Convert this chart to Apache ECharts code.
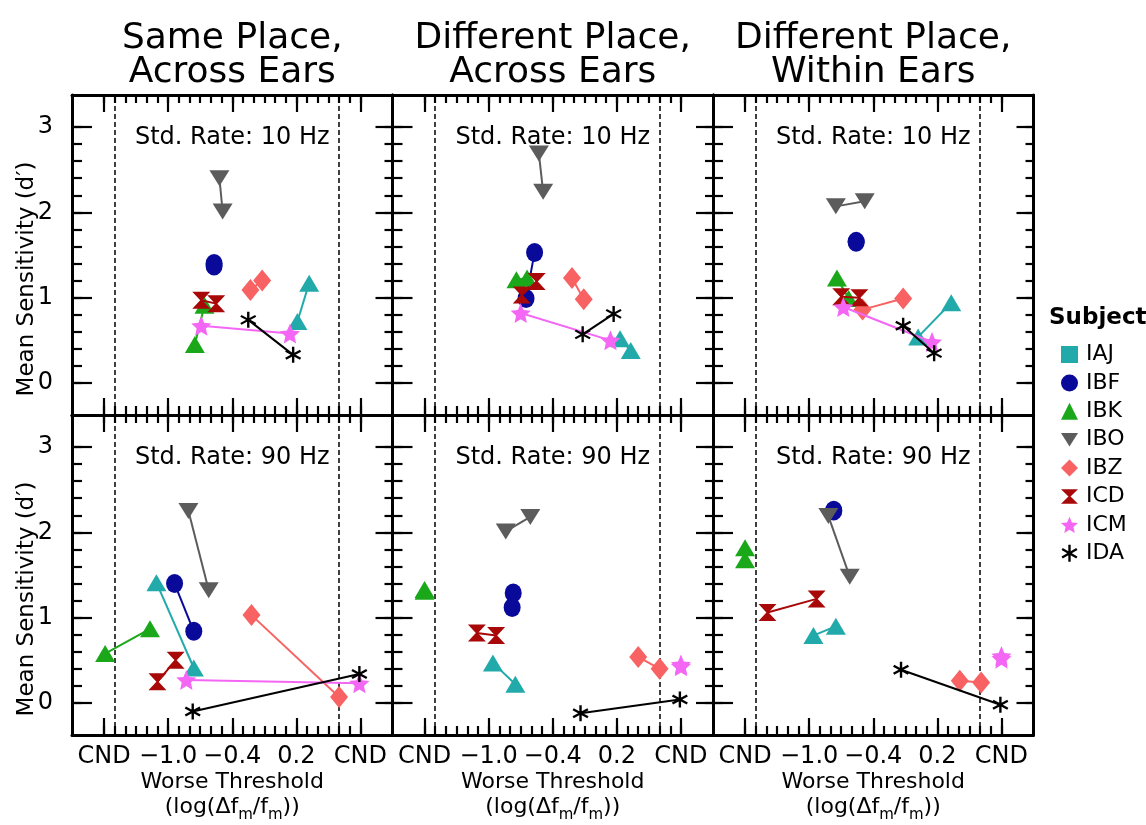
<!DOCTYPE html>
<html><head><meta charset="utf-8">
<script src="https://cdn.jsdelivr.net/npm/echarts@6/dist/echarts.min.js"></script>
<style>html,body{margin:0;padding:0;background:#fff}#c{width:1146px;height:825px}</style>
</head><body><div id="c"></div>
<script>
// ---------- data ----------
const subjects = ['IAJ','IBF','IBK','IBO','IBZ','ICD','ICM','IDA'];
const colTitles = ['Same Place,\nAcross Ears','Different Place,\nAcross Ears','Different Place,\nWithin Ears'];
const rowLabels = ['Std. Rate: 10 Hz','Std. Rate: 90 Hz'];
const xTickValues = [-1.6,-1.0,-0.4,0.2,0.8];
const xTickLabels = ['CND','\u22121.0','\u22120.4','0.2','CND'];
const yTickValues = [0,1,2,3];
const yTickLabels = ['0','1','2','3'];
const refLines = [-1.5, 0.6];

// panel order: top-left, top-mid, top-right, bottom-left, bottom-mid, bottom-right
// each entry: [[x1,y1],[x2,y2]]  (x = log threshold, y = d')
const IAJ = [[[0.21,0.72],[0.32,1.17]],[[0.23,0.52],[0.33,0.38]],[[0.02,0.54],[0.33,0.94]],
             [[-1.11,1.41],[-0.76,0.41]],[[-0.96,0.47],[-0.75,0.22]],[[-0.96,0.79],[-0.75,0.90]]];
const IBF = [[[-0.57,1.40],[-0.57,1.37]],[[-0.57,1.53],[-0.65,0.99]],[[-0.56,1.66],[-0.56,1.65]],
             [[-0.94,1.40],[-0.76,0.84]],[[-0.77,1.29],[-0.78,1.12]],[[-0.77,2.26],[-0.77,2.25]]];
const IBK = [[[-0.75,0.45],[-0.66,0.91]],[[-0.74,1.21],[-0.64,1.23]],[[-0.74,1.23],[-0.63,0.99]],
             [[-1.59,0.58],[-1.17,0.87]],[[-1.6,1.33],[-1.6,1.31]],[[-1.6,1.82],[-1.6,1.68]]];
const IBO = [[[-0.52,2.40],[-0.49,2.01]],[[-0.53,2.69],[-0.49,2.24]],[[-0.75,2.07],[-0.48,2.13]],
             [[-0.81,2.25],[-0.62,1.32]],[[-0.84,2.01],[-0.61,2.18]],[[-0.82,2.19],[-0.62,1.48]]];
const IBZ = [[[-0.23,1.09],[-0.12,1.20]],[[-0.22,1.23],[-0.11,0.98]],[[-0.50,0.86],[-0.12,0.99]],
             [[-0.22,1.03],[0.60,0.07]],[[0.40,0.54],[0.60,0.40]],[[0.41,0.26],[0.61,0.24]]];
const ICD = [[[-0.69,0.97],[-0.55,0.93]],[[-0.55,1.19],[-0.69,1.03]],[[-0.70,1.01],[-0.53,1.00]],
             [[-1.10,0.25],[-0.93,0.50]],[[-1.11,0.82],[-0.93,0.79]],[[-1.39,1.06],[-0.93,1.22]]];
const ICM = [[[-0.69,0.67],[0.14,0.58]],[[-0.70,0.82],[0.14,0.50]],[[-0.68,0.89],[0.15,0.48]],
             [[-0.83,0.27],[0.79,0.23]],[[0.80,0.45],[0.80,0.43]],[[0.80,0.55],[0.80,0.52]]];
const IDA = [[[-0.25,0.74],[0.17,0.33]],[[-0.12,0.57],[0.17,0.81]],[[-0.12,0.67],[0.17,0.35]],
             [[-0.77,-0.10],[0.79,0.34]],[[-0.14,-0.12],[0.79,0.04]],[[-0.14,0.39],[0.79,-0.02]]];
const subjectData = [IAJ, IBF, IBK, IBO, IBZ, ICD, ICM, IDA];

// ---------- styles ----------
const FONT = 'DejaVu Sans';
const colors = ['#22aaaa','#0a0a9a','#1aa81a','#5c5c5c','#f86262','#a80808','#f466f4','#000000'];
const downTri = 'path://M0,0L20,0L10,16Z';
const hourglass = 'path://M0,0L20,0L11.2,8.5L20,17L0,17L8.8,8.5Z';
const star = 'path://M0,-50L13.5,-18.6L47.55,-15.45L21.9,7.1L29.39,40.45L0,23L-29.39,40.45L-21.9,7.1L-47.55,-15.45L-13.5,-18.6Z';
const asterisk = 'path://M-7,-50L7,-50L7,50L-7,50Z M-39.8,-31.06L46.8,18.94L39.8,31.06L-46.8,-18.94Z M-46.8,18.94L39.8,-31.06L46.8,-18.94L-39.8,31.06Z';
const symbols = ['triangle','circle','triangle',downTri,'diamond',hourglass,star,asterisk];
const symSizes = [[20,17],[17,19],[20,17],[20,16],[18,22],[18,17],[20,20],[16,16]];
const legendIcons = ['rect','circle','triangle',downTri,'diamond',hourglass,star,asterisk];

const XMIN=-1.9, XMAX=1.1, YMIN=-0.375, YMAX=3.375;
const GL=72, GT=95, GW=320.5, GH=320;

const xMinor=[]; for(let i=-16;i<=8;i++) xMinor.push(Math.round(i)/10);
const yMinor=[]; for(let i=0;i<=15;i++) yMinor.push(Math.round(i*2)/10);

function lab(vals, labels, v){
  for(let i=0;i<vals.length;i++) if(Math.abs(vals[i]-v)<1e-6) return labels[i];
  return '';
}
function axLine(show){return {show:show,onZero:false,lineStyle:{color:'#000',width:3}};}
function xAx(g,pos,vals,len,line,showLab){
  return {type:'value',gridIndex:g,position:pos,min:XMIN,max:XMAX,
    axisLine:axLine(line),
    axisTick:{show:true,inside:true,length:len,customValues:vals,lineStyle:{color:'#000',width:2.2}},
    axisLabel:{show:showLab,customValues:xTickValues,margin:10,color:'#000',fontSize:24,fontFamily:FONT,
      formatter:v=>lab(xTickValues,xTickLabels,v)},
    splitLine:{show:false},minorTick:{show:false}};
}
function yAx(g,pos,vals,len,line,showLab){
  return {type:'value',gridIndex:g,position:pos,min:YMIN,max:YMAX,
    axisLine:axLine(line),
    axisTick:{show:true,inside:true,length:len,customValues:vals,lineStyle:{color:'#000',width:2.2}},
    axisLabel:{show:showLab,customValues:yTickValues,margin:19,color:'#000',fontSize:24,fontFamily:FONT,
      formatter:v=>lab(yTickValues,yTickLabels,v)},
    splitLine:{show:false},minorTick:{show:false}};
}

const grids=[], xAxes=[], yAxes=[], series=[], graphics=[];
for(let p=0;p<6;p++){
  const r=Math.floor(p/3), c=p%3;
  grids.push({left:GL+c*GW, top:GT+r*GH, width:GW, height:GH, containLabel:false, outerBoundsMode:'none'});
  xAxes.push(xAx(p,'bottom',xTickValues,17,true,r===1));
  xAxes.push(xAx(p,'bottom',xMinor,9,false,false));
  xAxes.push(xAx(p,'top',xTickValues,17,true,false));
  xAxes.push(xAx(p,'top',xMinor,8,false,false));
  yAxes.push(yAx(p,'left',yTickValues,20,true,c===0));
  yAxes.push(yAx(p,'left',yMinor,10,false,false));
  yAxes.push(yAx(p,'right',yTickValues,17,true,false));
  yAxes.push(yAx(p,'right',yMinor,8,false,false));
  subjects.forEach((s,i)=>{
    const ser={type:'line',name:s,xAxisIndex:4*p,yAxisIndex:4*p,data:subjectData[i][p],
      symbol:symbols[i],symbolSize:symSizes[i],showSymbol:true,animation:false,silent:true,
      itemStyle:{color:colors[i],opacity:1},lineStyle:{color:colors[i],width:2},
      emphasis:{disabled:true},z:3+i};
    if(i===0){
      ser.markLine={silent:true,symbol:['none','none'],animation:false,label:{show:false},
        lineStyle:{type:[5,3],color:'#000',width:1.5},emphasis:{disabled:true},
        data:refLines.map(v=>({xAxis:v}))};
    }
    series.push(ser);
  });
  graphics.push({type:'text',x:GL+c*GW+GW/2,y:GT+r*GH+43,silent:true,
    style:{text:rowLabels[r],fill:'#000',fontSize:24,fontFamily:FONT,align:'center',verticalAlign:'middle'}});
  if(c===0){
    graphics.push({type:'text',x:27,y:GT+r*GH+184,rotation:Math.PI/2,silent:true,
      style:{text:'Mean Sensitivity (d\u2032)',fill:'#000',fontSize:23,fontFamily:FONT,align:'center',verticalAlign:'middle'}});
  }
}
for(let c=0;c<3;c++){
  const cx=GL+c*GW+GW/2;
  graphics.push({type:'text',x:cx,y:56,silent:true,
    style:{text:colTitles[c],fill:'#000',fontSize:36,lineHeight:34,fontFamily:FONT,align:'center',verticalAlign:'middle'}});
  graphics.push({type:'text',x:cx,y:782,silent:true,
    style:{text:'Worse Threshold',fill:'#000',fontSize:22,fontFamily:FONT,align:'center',verticalAlign:'middle'}});
  graphics.push({type:'text',x:cx,y:807,silent:true,
    style:{text:'{a|(log(\u0394f}{b|m}{a|/f}{b|m}{a|))}',align:'center',verticalAlign:'middle',
      rich:{a:{fontSize:22,fontFamily:FONT,fill:'#000',lineHeight:32,verticalAlign:'middle'},
            b:{fontSize:15,fontFamily:FONT,fill:'#000',lineHeight:32,verticalAlign:'bottom'}}}});
}
graphics.push({type:'text',x:1049,y:318,silent:true,
  style:{text:'Subject',fill:'#000',fontSize:23,fontWeight:'bold',fontFamily:FONT,align:'left',verticalAlign:'middle'}});

const option={
  animation:false,
  backgroundColor:'#fff',
  grid:grids, xAxis:xAxes, yAxis:yAxes, series:series, graphic:graphics,
  legend:{orient:'vertical',left:1056,top:338.5,itemWidth:17,itemHeight:17,itemGap:6.4,selectedMode:false,
    data:subjects.map((s,i)=>({name:s,icon:legendIcons[i]})),
    formatter:'{t|{name}}',
    textStyle:{color:'#000',fontSize:22,fontFamily:FONT,rich:{t:{fontSize:22,fontFamily:FONT,color:'#000',padding:[0,0,0,3],lineHeight:17}}}}
};
const chart=echarts.init(document.getElementById('c'),null,{renderer:'canvas'});
chart.setOption(option);
</script></body></html>
